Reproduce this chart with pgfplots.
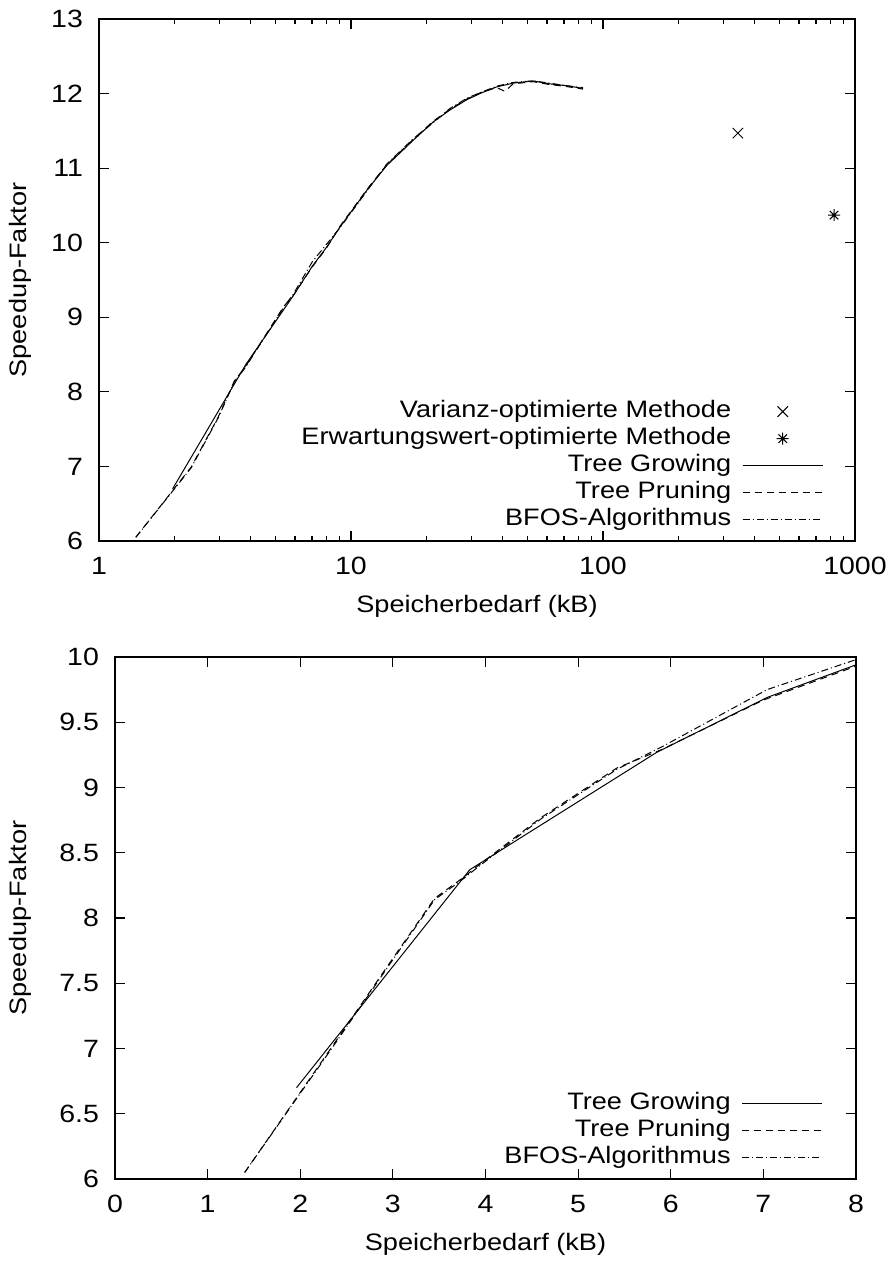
\documentclass[border=0pt]{standalone}
\usepackage{fontspec}
\setmainfont{Liberation Sans}
\newfontfamily\gptext[FakeStretch=1.14]{Liberation Sans}
\usepackage{pgfplots}
\pgfplotsset{compat=1.18}
\usepackage{pgfplotstable}

% gnuplot style "*" (plus and cross together)
\pgfdeclareplotmark{gpstar}{%
  \pgfpathmoveto{\pgfqpoint{-\pgfplotmarksize}{0pt}}%
  \pgfpathlineto{\pgfqpoint{\pgfplotmarksize}{0pt}}%
  \pgfpathmoveto{\pgfqpoint{0pt}{-\pgfplotmarksize}}%
  \pgfpathlineto{\pgfqpoint{0pt}{\pgfplotmarksize}}%
  \pgfpathmoveto{\pgfqpoint{-0.707\pgfplotmarksize}{-0.707\pgfplotmarksize}}%
  \pgfpathlineto{\pgfqpoint{0.707\pgfplotmarksize}{0.707\pgfplotmarksize}}%
  \pgfpathmoveto{\pgfqpoint{-0.707\pgfplotmarksize}{0.707\pgfplotmarksize}}%
  \pgfpathlineto{\pgfqpoint{0.707\pgfplotmarksize}{-0.707\pgfplotmarksize}}%
  \pgfusepathqstroke
}

\pgfplotstableread{
x y
1.96 6.70
3.83 8.37
5.85 9.27
7.04 9.69
8.00 9.94
9.04 10.21
11.6 10.71
13.9 11.04
15.6 11.20
17.6 11.37
21.2 11.62
24.7 11.78
28.9 11.92
33.0 12.01
37.9 12.09
44.0 12.14
52.7 12.17
61.6 12.13
70.0 12.11
83.3 12.07
}\growing

\pgfplotstableread{
x y
1.40 6.05
2.32 6.99
2.97 7.66
3.45 8.15
3.76 8.31
3.90 8.39
4.60 8.77
5.42 9.15
5.90 9.29
7.00 9.67
8.00 9.93
9.04 10.22
11.6 10.72
13.9 11.05
15.6 11.21
17.6 11.38
21.2 11.63
24.7 11.79
28.9 11.93
33.0 12.02
37.9 12.08
40.8 12.03
44.0 12.13
52.7 12.16
61.6 12.12
70.0 12.10
83.3 12.06
}\pruning

\pgfplotstableread{
x y
1.40 6.05
2.32 6.98
2.97 7.65
3.45 8.14
3.76 8.30
3.90 8.38
4.60 8.76
5.42 9.14
5.90 9.31
7.04 9.75
8.00 9.98
9.04 10.20
11.6 10.70
13.9 11.06
15.6 11.22
17.6 11.39
21.2 11.61
24.7 11.80
28.9 11.94
33.0 12.02
37.9 12.10
44.0 12.15
52.7 12.17
61.6 12.14
70.0 12.11
83.3 12.08
}\bfos

\pgfplotsset{
  gp/.style={
    scale only axis,
    height=261pt,
    tick align=inside,
    major tick length=5pt,
    minor tick length=2.5pt,
    axis line style={line width=1pt},
    every tick/.style={black, line width=0.6pt},
    tick label style={font=\gptext\fontsize{12.5}{14}\selectfont},
    label style={font=\gptext\fontsize{11.9}{14}\selectfont},
    xticklabel style={yshift=-4.5pt},
    yticklabel style={xshift=-4.5pt},
    /pgf/number format/assume math mode=true,
    xlabel style={at={(axis description cs:0.5,0)}, anchor=center, yshift=-32.5pt},
    legend cell align=right,
    legend plot pos=right,
    legend style={draw=none, fill=none, inner sep=0pt, outer sep=0pt,
      anchor=south east, column sep=5.5pt, row sep=1.5pt,
      nodes={inner sep=0pt, text height=9pt, text depth=3pt},
      font=\gptext\fontsize{11.9}{14}\selectfont},
    legend image code/.code={%
      \draw[mark repeat=2, mark phase=2, #1]
        plot coordinates {(0pt,0pt) (20pt,0pt) (40pt,0pt)};},
  },
  growing/.style={black, line width=0.5pt},
  pruning/.style={black, line width=0.5pt, dash pattern=on 3.5pt off 2.5pt},
  bfos/.style={black, line width=0.5pt, dash pattern=on 3.5pt off 1.5pt on 0.5pt off 1.5pt},
}

\begin{document}
\begin{tikzpicture}
\useasboundingbox (-49.5pt,-362pt) rectangle (395pt,270.5pt);

\begin{axis}[gp,
  width=378pt,
  xmode=log,
  xmin=1, xmax=1000,
  ymin=6, ymax=13,
  xtick={1,10,100,1000},
  xticklabels={1,10,100,1000},
  ytick={6,7,...,13},
  xlabel={Speicherbedarf (kB)},
  ylabel={Speedup-Faktor},
  ylabel style={at={(axis description cs:-0.104,0.5)}, anchor=center},
  legend style={at={(axis description cs:0.958,0.018)}},
]
\addplot[only marks, mark=x, mark size=3.7pt, black, line width=0.5pt]
  coordinates {(343,11.47)};
\addlegendentry{Varianz-optimierte Methode}
\addplot[only marks, mark=gpstar, mark size=3pt, black, line width=0.5pt]
  coordinates {(826,10.37)};
\addlegendentry{Erwartungswert-optimierte Methode}
\addplot[growing] table {\growing};
\addlegendentry{Tree Growing}
\addplot[pruning] table {\pruning};
\addlegendentry{Tree Pruning}
\addplot[bfos] table {\bfos};
\addlegendentry{BFOS-Algorithmus}
\end{axis}

\begin{axis}[gp,
  at={(8pt,-319pt)}, anchor=south west,
  width=370.5pt,
  xmin=0, xmax=8,
  ymin=6, ymax=10,
  xtick={0,1,...,8},
  ytick={6,6.5,...,10},
  xlabel={Speicherbedarf (kB)},
  ylabel={Speedup-Faktor},
  ylabel style={at={(axis description cs:-0.1275,0.5)}, anchor=center},
  legend style={at={(axis description cs:0.955,0.018)}},
]
\addplot[growing] table {\growing};
\addlegendentry{Tree Growing}
\addplot[pruning] table {\pruning};
\addlegendentry{Tree Pruning}
\addplot[bfos] table {\bfos};
\addlegendentry{BFOS-Algorithmus}
\end{axis}
\end{tikzpicture}
\end{document}
